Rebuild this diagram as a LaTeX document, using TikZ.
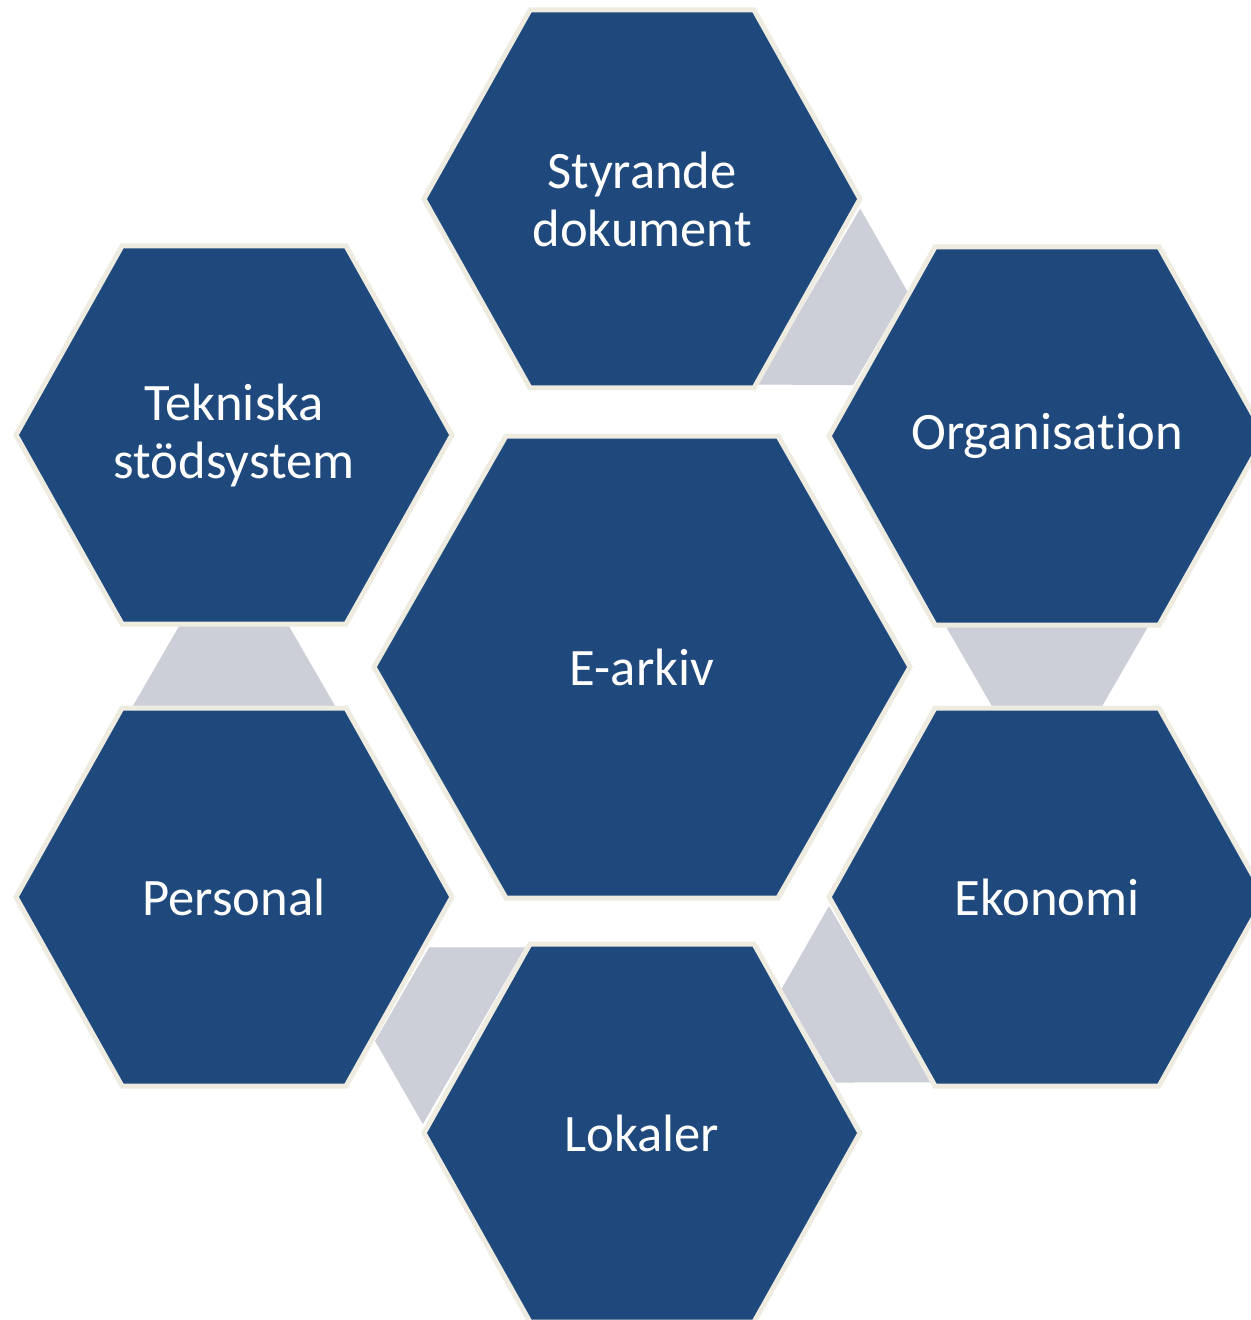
\documentclass[tikz,border=0pt]{standalone}
\usepackage{fontspec}
\setmainfont[Ligatures=CommonOff]{Carlito}
\usetikzlibrary{calc}
\definecolor{hexblue}{RGB}{31,73,125}
\definecolor{hexrim}{RGB}{238,236,225}
\definecolor{bandgrey}{RGB}{204,206,216}
\pgfdeclarelayer{bandlayer}
\pgfdeclarelayer{hexlayer}
\pgfsetlayers{bandlayer,hexlayer,main}
\tikzset{
  hexshape/.style={fill=hexblue, draw=hexrim, line width=2.5pt, line join=miter},
  lbl/.style={text=white, font=\fontsize{26.3}{29}\selectfont, align=center, inner sep=0pt},
  bandshape/.style={fill=bandgrey},
}
\newcommand\hexat[4]{%
  \filldraw[hexshape] ([shift={(-#2,0)}]#1.center) -- ([shift={(-#3,-#4)}]#1.center)
    -- ([shift={(#3,-#4)}]#1.center) -- ([shift={(#2,0)}]#1.center)
    -- ([shift={(#3,#4)}]#1.center) -- ([shift={(-#3,#4)}]#1.center) -- cycle;}
\newcommand\bandfrom[2]{%
  \fill[bandshape]
    ($(#1.center)!0.5!(#2.center)!-20.75pt!(#2.center)!51pt!90:(#2.center)$)
 -- ($(#1.center)!0.5!(#2.center)!-20.75pt!(#2.center)!-51pt!90:(#2.center)$)
 -- ($(#1.center)!0.5!(#2.center)!20.75pt!(#2.center)!-27pt!90:(#2.center)$)
 -- ($(#1.center)!0.5!(#2.center)!20.75pt!(#2.center)!27pt!90:(#2.center)$)
 -- cycle;}
\begin{document}
\begin{tikzpicture}[x=0.5pt,y=-0.5pt]
\useasboundingbox (0,0) rectangle (1250,1320);
\clip (0,0) rectangle (1250,1320);
% labels (named nodes)
\node[lbl] (sty) at (642,199) {Styrande\\dokument};
\node[lbl] (org) at (1047,436) {Organisation};
\node[lbl] (eko) at (1047,897) {Ekonomi};
\node[lbl] (lok) at (642,1133) {Lokaler};
\node[lbl] (per) at (234,897) {Personal};
\node[lbl] (tek) at (234,435) {Tekniska\\stödsystem};
\node[lbl] (ear) at (642,667) {E-arkiv};
% hexagons
\begin{pgfonlayer}{hexlayer}
\hexat{sty}{218}{112}{189}
\hexat{org}{218}{112}{189}
\hexat{eko}{218}{112}{189}
\hexat{lok}{218}{112}{189}
\hexat{per}{218}{112}{189}
\hexat{tek}{218}{112}{189}
\hexat{ear}{268}{136}{231}
\end{pgfonlayer}
% connecting bands
\begin{pgfonlayer}{bandlayer}
\bandfrom{sty}{org}
\bandfrom{org}{eko}
\bandfrom{eko}{lok}
\bandfrom{lok}{per}
\bandfrom{per}{tek}
\end{pgfonlayer}
\end{tikzpicture}
\end{document}
